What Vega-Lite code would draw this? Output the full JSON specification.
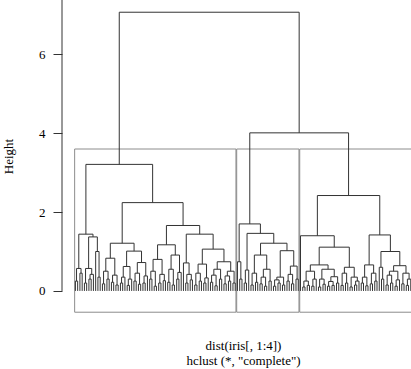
{
"$schema": "https://vega.github.io/schema/vega-lite/v6.json",
"width": 349, "height": 313,
"autosize": {"type": "none"},
"padding": {"left": 62, "top": 0, "right": 0, "bottom": 56},
"background": "white",
"config": {"view": {"stroke": null}, "font": "Liberation Serif"},
"datasets": {
"boxes": [
{"x1": 0.66, "x2": 72.33, "y1": -0.54, "y2": 3.6},
{"x1": 72.66, "x2": 100.33, "y1": -0.54, "y2": 3.6},
{"x1": 100.66, "x2": 150.33, "y1": -0.54, "y2": 3.6}
],
"axisline": [{"x1": -4.96, "y1": 0, "y2": 7.38}],
"tree": [
{"xl":1,"xr":2,"h":0.25,"hl":0,"hr":0},
{"xl":3,"xr":4,"h":0.45,"hl":0,"hr":0},
{"xl":1.5,"xr":3.5,"h":0.57,"hl":0.25,"hr":0.45},
{"xl":5,"xr":6,"h":0.2,"hl":0,"hr":0},
{"xl":7,"xr":8,"h":0.3,"hl":0,"hr":0},
{"xl":7.5,"xr":9,"h":0.42,"hl":0.3,"hr":0},
{"xl":5.5,"xr":8.25,"h":0.57,"hl":0.2,"hr":0.42},
{"xl":11,"xr":12,"h":0.35,"hl":0,"hr":0},
{"xl":10,"xr":11.5,"h":1.0,"hl":0,"hr":0.35},
{"xl":6.875,"xr":10.75,"h":1.37,"hl":0.57,"hr":1.0},
{"xl":2.5,"xr":8.8125,"h":1.44,"hl":0.57,"hr":1.37},
{"xl":13,"xr":14,"h":0.18,"hl":0,"hr":0},
{"xl":15,"xr":16,"h":0.3,"hl":0,"hr":0},
{"xl":13.5,"xr":15.5,"h":0.5,"hl":0.18,"hr":0.3},
{"xl":17,"xr":18,"h":0.22,"hl":0,"hr":0},
{"xl":19,"xr":20,"h":0.15,"hl":0,"hr":0},
{"xl":17.5,"xr":19.5,"h":0.4,"hl":0.22,"hr":0.15},
{"xl":14.5,"xr":18.5,"h":0.83,"hl":0.5,"hr":0.4},
{"xl":21,"xr":22,"h":0.2,"hl":0,"hr":0},
{"xl":21.5,"xr":23,"h":0.35,"hl":0.2,"hr":0},
{"xl":24,"xr":25,"h":0.14,"hl":0,"hr":0},
{"xl":24.5,"xr":26,"h":0.3,"hl":0.14,"hr":0},
{"xl":22.25,"xr":25.25,"h":0.62,"hl":0.35,"hr":0.3},
{"xl":27,"xr":28,"h":0.25,"hl":0,"hr":0},
{"xl":29,"xr":30,"h":0.17,"hl":0,"hr":0},
{"xl":27.5,"xr":29.5,"h":0.45,"hl":0.25,"hr":0.17},
{"xl":31,"xr":32,"h":0.2,"hl":0,"hr":0},
{"xl":31.5,"xr":33,"h":0.38,"hl":0.2,"hr":0},
{"xl":28.5,"xr":32.25,"h":0.72,"hl":0.45,"hr":0.38},
{"xl":23.75,"xr":30.375,"h":1.01,"hl":0.62,"hr":0.72},
{"xl":16.5,"xr":27.0625,"h":1.21,"hl":0.83,"hr":1.01},
{"xl":34,"xr":35,"h":0.3,"hl":0,"hr":0},
{"xl":36,"xr":37,"h":0.12,"hl":0,"hr":0},
{"xl":34.5,"xr":36.5,"h":0.5,"hl":0.3,"hr":0.12},
{"xl":38,"xr":39,"h":0.2,"hl":0,"hr":0},
{"xl":40,"xr":41,"h":0.26,"hl":0,"hr":0},
{"xl":38.5,"xr":40.5,"h":0.42,"hl":0.2,"hr":0.26},
{"xl":35.5,"xr":39.5,"h":0.8,"hl":0.5,"hr":0.42},
{"xl":42,"xr":43,"h":0.22,"hl":0,"hr":0},
{"xl":44,"xr":45,"h":0.15,"hl":0,"hr":0},
{"xl":42.5,"xr":44.5,"h":0.55,"hl":0.22,"hr":0.15},
{"xl":46,"xr":47,"h":0.3,"hl":0,"hr":0},
{"xl":46.5,"xr":48,"h":0.47,"hl":0.3,"hr":0},
{"xl":43.5,"xr":47.25,"h":0.91,"hl":0.55,"hr":0.47},
{"xl":37.5,"xr":45.375,"h":1.17,"hl":0.8,"hr":0.91},
{"xl":50,"xr":51,"h":0.2,"hl":0,"hr":0},
{"xl":52,"xr":53,"h":0.28,"hl":0,"hr":0},
{"xl":50.5,"xr":52.5,"h":0.42,"hl":0.2,"hr":0.28},
{"xl":49,"xr":51.5,"h":0.71,"hl":0,"hr":0.42},
{"xl":54,"xr":55,"h":0.15,"hl":0,"hr":0},
{"xl":56,"xr":57,"h":0.25,"hl":0,"hr":0},
{"xl":54.5,"xr":56.5,"h":0.45,"hl":0.15,"hr":0.25},
{"xl":58,"xr":59,"h":0.2,"hl":0,"hr":0},
{"xl":58.5,"xr":60,"h":0.33,"hl":0.2,"hr":0},
{"xl":55.5,"xr":59.25,"h":0.68,"hl":0.45,"hr":0.33},
{"xl":61,"xr":62,"h":0.22,"hl":0,"hr":0},
{"xl":63,"xr":64,"h":0.13,"hl":0,"hr":0},
{"xl":61.5,"xr":63.5,"h":0.4,"hl":0.22,"hr":0.13},
{"xl":65,"xr":66,"h":0.3,"hl":0,"hr":0},
{"xl":62.5,"xr":65.5,"h":0.55,"hl":0.4,"hr":0.3},
{"xl":67,"xr":68,"h":0.18,"hl":0,"hr":0},
{"xl":69,"xr":70,"h":0.25,"hl":0,"hr":0},
{"xl":67.5,"xr":69.5,"h":0.38,"hl":0.18,"hr":0.25},
{"xl":71,"xr":72,"h":0.2,"hl":0,"hr":0},
{"xl":68.5,"xr":71.5,"h":0.5,"hl":0.38,"hr":0.2},
{"xl":64,"xr":70,"h":0.74,"hl":0.55,"hr":0.5},
{"xl":57.375,"xr":67,"h":1.06,"hl":0.68,"hr":0.74},
{"xl":50.25,"xr":62.1875,"h":1.44,"hl":0.71,"hr":1.06},
{"xl":41.4375,"xr":56.21875,"h":1.66,"hl":1.17,"hr":1.44},
{"xl":21.78125,"xr":48.828125,"h":2.24,"hl":1.21,"hr":1.66},
{"xl":5.65625,"xr":35.3046875,"h":3.21,"hl":1.44,"hr":2.24},
{"xl":74,"xr":75,"h":0.3,"hl":0,"hr":0},
{"xl":73,"xr":74.5,"h":0.74,"hl":0,"hr":0.3},
{"xl":76,"xr":77,"h":0.2,"hl":0,"hr":0},
{"xl":76.5,"xr":78,"h":0.53,"hl":0.2,"hr":0},
{"xl":79,"xr":80,"h":0.15,"hl":0,"hr":0},
{"xl":81,"xr":82,"h":0.22,"hl":0,"hr":0},
{"xl":79.5,"xr":81.5,"h":0.45,"hl":0.15,"hr":0.22},
{"xl":83,"xr":84,"h":0.18,"hl":0,"hr":0},
{"xl":85,"xr":86,"h":0.12,"hl":0,"hr":0},
{"xl":83.5,"xr":85.5,"h":0.35,"hl":0.18,"hr":0.12},
{"xl":87,"xr":88,"h":0.25,"hl":0,"hr":0},
{"xl":84.5,"xr":87.5,"h":0.55,"hl":0.35,"hr":0.25},
{"xl":80.5,"xr":86,"h":0.91,"hl":0.45,"hr":0.55},
{"xl":89,"xr":90,"h":0.12,"hl":0,"hr":0},
{"xl":91,"xr":92,"h":0.2,"hl":0,"hr":0},
{"xl":89.5,"xr":91.5,"h":0.28,"hl":0.12,"hr":0.2},
{"xl":93,"xr":94,"h":0.15,"hl":0,"hr":0},
{"xl":90.5,"xr":93.5,"h":0.35,"hl":0.28,"hr":0.15},
{"xl":95,"xr":96,"h":0.25,"hl":0,"hr":0},
{"xl":97,"xr":98,"h":0.18,"hl":0,"hr":0},
{"xl":95.5,"xr":97.5,"h":0.42,"hl":0.25,"hr":0.18},
{"xl":99,"xr":100,"h":0.3,"hl":0,"hr":0},
{"xl":96.5,"xr":99.5,"h":0.63,"hl":0.42,"hr":0.3},
{"xl":92,"xr":98,"h":1.02,"hl":0.35,"hr":0.63},
{"xl":83.25,"xr":95,"h":1.21,"hl":0.91,"hr":1.02},
{"xl":77.25,"xr":89.125,"h":1.46,"hl":0.53,"hr":1.21},
{"xl":73.75,"xr":83.1875,"h":1.70,"hl":0.74,"hr":1.46},
{"xl":102,"xr":103,"h":0.1,"hl":0,"hr":0},
{"xl":104,"xr":105,"h":0.14,"hl":0,"hr":0},
{"xl":102.5,"xr":104.5,"h":0.25,"hl":0.1,"hr":0.14},
{"xl":106,"xr":107,"h":0.12,"hl":0,"hr":0},
{"xl":106.5,"xr":108,"h":0.3,"hl":0.12,"hr":0},
{"xl":103.5,"xr":107.25,"h":0.5,"hl":0.25,"hr":0.3},
{"xl":109,"xr":110,"h":0.1,"hl":0,"hr":0},
{"xl":111,"xr":112,"h":0.17,"hl":0,"hr":0},
{"xl":109.5,"xr":111.5,"h":0.3,"hl":0.1,"hr":0.17},
{"xl":113,"xr":114,"h":0.12,"hl":0,"hr":0},
{"xl":115,"xr":116,"h":0.14,"hl":0,"hr":0},
{"xl":113.5,"xr":115.5,"h":0.24,"hl":0.12,"hr":0.14},
{"xl":117,"xr":118,"h":0.2,"hl":0,"hr":0},
{"xl":114.5,"xr":117.5,"h":0.36,"hl":0.24,"hr":0.2},
{"xl":110.5,"xr":116,"h":0.55,"hl":0.3,"hr":0.36},
{"xl":105.375,"xr":113.25,"h":0.66,"hl":0.5,"hr":0.55},
{"xl":119,"xr":120,"h":0.14,"hl":0,"hr":0},
{"xl":121,"xr":122,"h":0.2,"hl":0,"hr":0},
{"xl":119.5,"xr":121.5,"h":0.45,"hl":0.14,"hr":0.2},
{"xl":123,"xr":124,"h":0.1,"hl":0,"hr":0},
{"xl":125,"xr":126,"h":0.15,"hl":0,"hr":0},
{"xl":125.5,"xr":127,"h":0.25,"hl":0.15,"hr":0},
{"xl":123.5,"xr":126.25,"h":0.35,"hl":0.1,"hr":0.25},
{"xl":120.5,"xr":124.875,"h":0.6,"hl":0.45,"hr":0.35},
{"xl":109.3125,"xr":122.6875,"h":1.11,"hl":0.66,"hr":0.6},
{"xl":101,"xr":116,"h":1.40,"hl":0,"hr":1.11},
{"xl":128,"xr":129,"h":0.2,"hl":0,"hr":0},
{"xl":130,"xr":131,"h":0.13,"hl":0,"hr":0},
{"xl":128.5,"xr":130.5,"h":0.35,"hl":0.2,"hr":0.13},
{"xl":132,"xr":133,"h":0.18,"hl":0,"hr":0},
{"xl":134,"xr":135,"h":0.25,"hl":0,"hr":0},
{"xl":132.5,"xr":134.5,"h":0.45,"hl":0.18,"hr":0.25},
{"xl":129.5,"xr":133.5,"h":0.66,"hl":0.35,"hr":0.45},
{"xl":137,"xr":138,"h":0.3,"hl":0,"hr":0},
{"xl":136,"xr":137.5,"h":0.6,"hl":0,"hr":0.3},
{"xl":139,"xr":140,"h":0.15,"hl":0,"hr":0},
{"xl":141,"xr":142,"h":0.2,"hl":0,"hr":0},
{"xl":139.5,"xr":141.5,"h":0.4,"hl":0.15,"hr":0.2},
{"xl":143,"xr":144,"h":0.12,"hl":0,"hr":0},
{"xl":143.5,"xr":145,"h":0.28,"hl":0.12,"hr":0},
{"xl":140.5,"xr":144.25,"h":0.5,"hl":0.4,"hr":0.28},
{"xl":146,"xr":147,"h":0.18,"hl":0,"hr":0},
{"xl":148,"xr":149,"h":0.14,"hl":0,"hr":0},
{"xl":148.5,"xr":150,"h":0.3,"hl":0.14,"hr":0},
{"xl":146.5,"xr":149.25,"h":0.45,"hl":0.18,"hr":0.3},
{"xl":142.375,"xr":147.875,"h":0.64,"hl":0.5,"hr":0.45},
{"xl":136.75,"xr":145.125,"h":1.0,"hl":0.6,"hr":0.64},
{"xl":131.5,"xr":140.9375,"h":1.42,"hl":0.66,"hr":1.0},
{"xl":108.5,"xr":136.21875,"h":2.42,"hl":1.40,"hr":1.42},
{"xl":78.46875,"xr":122.359375,"h":4.01,"hl":1.70,"hr":2.42},
{"xl":20.48046875,"xr":100.4140625,"h":7.07,"hl":3.21,"hr":4.01}
]
},
"encoding": {
"x": {"type": "quantitative", "scale": {"domain": [-4.96, 150.1], "nice": false, "zero": false},
"axis": {"domain": false, "ticks": false, "labels": false, "grid": false,
"title": ["dist(iris[, 1:4])", "hclust (*, \"complete\")"],
"titleFont": "Liberation Serif", "titleFontSize": 13, "titleFontWeight": "normal", "titleColor": "#000",
"titleX": 181, "titleY": 36, "titleAlign": "center", "titleBaseline": "alphabetic", "titleLineHeight": 15}},
"y": {"type": "quantitative", "scale": {"domain": [-0.56, 7.38], "nice": false, "zero": false},
"axis": {"values": [0, 2, 4, 6], "domain": false, "grid": false, "tickSize": 9, "tickColor": "#333", "tickWidth": 1,
"labelPadding": 8, "labelFont": "Liberation Serif", "labelFontSize": 13, "labelColor": "#000", "labelAngle": 0,
"title": "Height", "titleFont": "Liberation Serif", "titleFontSize": 13, "titleFontWeight": "normal", "titleColor": "#000",
"titleAngle": -90, "titleX": -54, "titleY": 156, "titleAlign": "center", "titleBaseline": "middle"}}
},
"layer": [
{
"data": {"name": "boxes"},
"mark": {"type": "rect", "filled": false, "stroke": "#8c8c8c", "strokeWidth": 1, "clip": true},
"encoding": {
"x": {"field": "x1"},
"x2": {"field": "x2"},
"y": {"field": "y1"},
"y2": {"field": "y2"}
}
},
{
"data": {"name": "axisline"},
"mark": {"type": "rule", "stroke": "#333", "strokeWidth": 1},
"encoding": {
"x": {"field": "x1"},
"y": {"field": "y1"},
"y2": {"field": "y2"}
}
},
{
"data": {"name": "tree"},
"mark": {"type": "rule", "stroke": "#333", "strokeWidth": 1, "clip": true},
"encoding": {
"x": {"field": "xl"},
"x2": {"field": "xr"},
"y": {"field": "h"}
}
},
{
"data": {"name": "tree"},
"mark": {"type": "rule", "stroke": "#333", "strokeWidth": 1, "clip": true},
"encoding": {
"x": {"field": "xl"},
"y": {"field": "hl"},
"y2": {"field": "h"}
}
},
{
"data": {"name": "tree"},
"mark": {"type": "rule", "stroke": "#333", "strokeWidth": 1, "clip": true},
"encoding": {
"x": {"field": "xr"},
"y": {"field": "hr"},
"y2": {"field": "h"}
}
}
]
}
